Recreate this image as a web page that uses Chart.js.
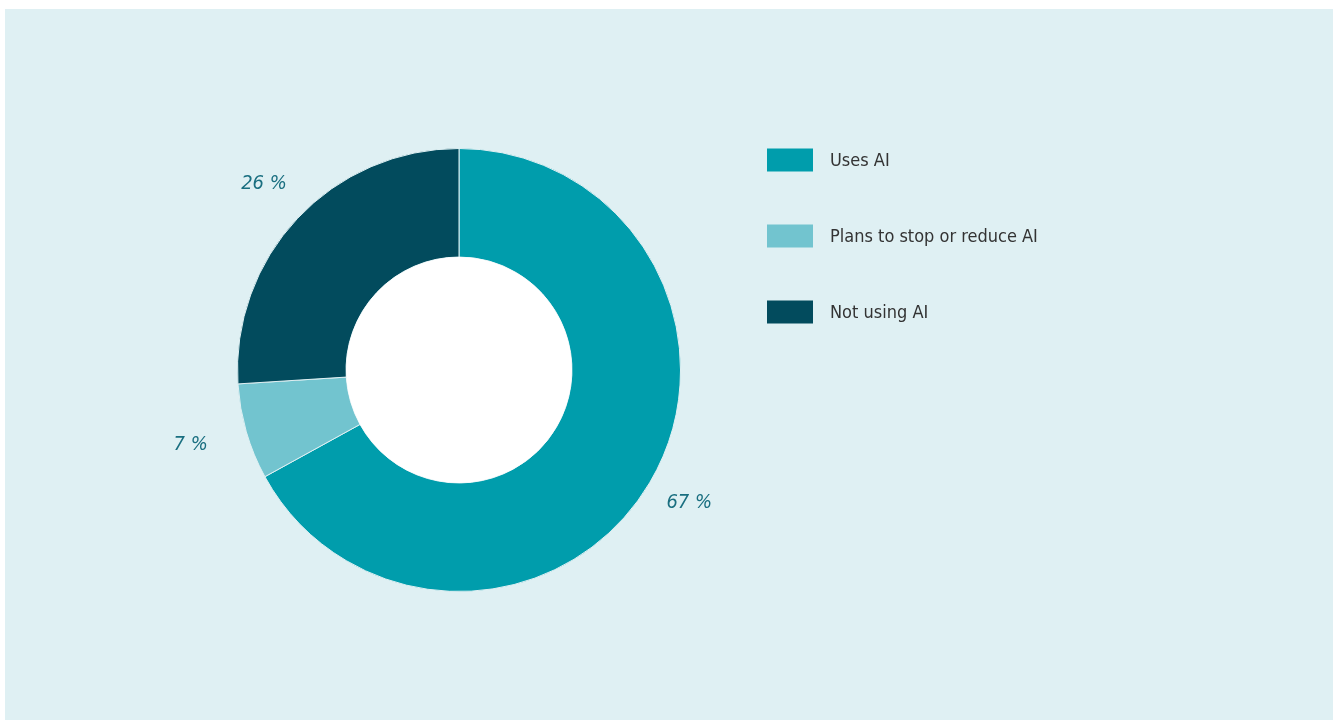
<!DOCTYPE html>
<html>
<head>
<meta charset="utf-8">
<title>AI usage</title>
<script src="https://cdn.jsdelivr.net/npm/chart.js@4.4.1/dist/chart.umd.min.js"></script>
<style>
    html, body { margin: 0; padding: 0; background: #ffffff; }
    #wrap { width: 1333px; height: 721px; position: relative; }
</style>
</head>
<body>
<div id="wrap">
    <canvas id="aiChart" width="1333" height="721"></canvas>
</div>
<script>
// Share of respondents
const categories = ['Uses AI', 'Plans to stop or reduce AI', 'Not using AI'];
const shares = [67, 7, 26];
const sliceColors = ['#009dac', '#72c4cf', '#024b5d'];

const PANEL_BG = '#dff0f3';
const TEXT_FONT = '"Liberation Sans Narrow", "DejaVu Sans Condensed", "Roboto", sans-serif';

// light blue panel + white hole in the middle
const panelPlugin = {
    id: 'panel',
    beforeDraw(chart) {
        const ctx = chart.ctx;
        ctx.save();
        ctx.fillStyle = PANEL_BG;
        ctx.fillRect(5, 9, chart.width - 5, chart.height - 10);
        ctx.restore();
    },
    afterDatasetsDraw(chart) {
        const arc = chart.getDatasetMeta(0).data[0];
        if (!arc) return;
        const ctx = chart.ctx;
        ctx.save();
        ctx.fillStyle = '#ffffff';
        ctx.beginPath();
        ctx.arc(arc.x, arc.y, arc.innerRadius, 0, Math.PI * 2);
        ctx.fill();
        ctx.restore();
    }
};

// percent labels outside the ring
const outsideLabels = {
    id: 'outsideLabels',
    afterDraw(chart) {
        const ctx = chart.ctx;
        const meta = chart.getDatasetMeta(0);
        ctx.save();
        ctx.font = 'italic 20px ' + TEXT_FONT;
        ctx.fillStyle = '#1a6f80';
        ctx.textAlign = 'center';
        ctx.textBaseline = 'middle';
        meta.data.forEach((arc, i) => {
            const mid = (arc.startAngle + arc.endAngle) / 2;
            // narrow slices get their label pushed a bit further out
            const r = arc.outerRadius + (shares[i] < 10 ? 58 : 46);
            const x = arc.x + Math.cos(mid) * r;
            const y = arc.y + Math.sin(mid) * r;
            ctx.fillText(shares[i] + ' %', x, y - 3);
        });
        ctx.restore();
    }
};

// legend on the right
const sideLegend = {
    id: 'sideLegend',
    afterDraw(chart) {
        const ctx = chart.ctx;
        ctx.save();
        ctx.font = '18px ' + TEXT_FONT;
        ctx.textBaseline = 'middle';
        ctx.textAlign = 'left';
        categories.forEach((label, i) => {
            const cy = 160 + i * 76;
            ctx.fillStyle = sliceColors[i];
            ctx.fillRect(767, cy - 11.5, 46, 23);
            ctx.fillStyle = '#333333';
            ctx.fillText(label, 830, cy + 1);
        });
        ctx.restore();
    }
};

new Chart(document.getElementById('aiChart'), {
    type: 'doughnut',
    data: {
        labels: categories,
        datasets: [{
            data: shares,
            backgroundColor: sliceColors,
            borderColor: PANEL_BG,
            borderWidth: 1
        }]
    },
    options: {
        responsive: false,
        animation: false,
        cutout: '51%',
        layout: {
            padding: { left: 237, right: 652, top: 148, bottom: 129 }
        },
        plugins: {
            legend: { display: false },
            tooltip: { enabled: false }
        }
    },
    plugins: [panelPlugin, outsideLabels, sideLegend]
});
</script>
</body>
</html>
